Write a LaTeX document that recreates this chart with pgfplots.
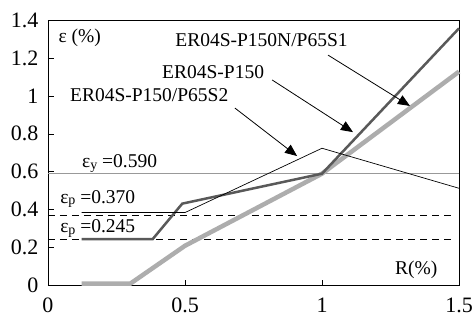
\documentclass[border=0pt]{standalone}
\usepackage{fontspec}
\setmainfont{Liberation Serif}
\usepackage{pgfplots}
\pgfplotsset{compat=1.18}
\usetikzlibrary{arrows.meta}
\newcommand{\sub}[1]{\raisebox{-1.5bp}{\fontsize{14bp}{16bp}\selectfont #1}}
\begin{document}
\begin{tikzpicture}[font=\fontsize{19.5bp}{23bp}\selectfont]
\begin{axis}[
  scale only axis,
  width=411bp, height=265.6bp,
  xmin=0, xmax=1.5, ymin=0, ymax=1.4,
  xtick={0,0.5,1,1.5},
  ytick={0,0.2,0.4,0.6,0.8,1,1.2,1.4},
  tick align=inside,
  xtick pos=bottom, ytick pos=left,
  major tick length=6bp,
  tick style={black, line width=0.6pt},
  axis line style={black, line width=0.8pt},
  /pgf/number format/assume math mode=true,
  ticklabel style={font=\fontsize{22bp}{26bp}\selectfont},
  xticklabel style={yshift=-9bp},
  yticklabel style={xshift=-6bp},
  clip=false,
]
% reference lines
\addplot[color=black!40, line width=1.2pt] coordinates {(0,0.59) (1.5,0.59)};
\addplot[black, line width=0.8pt, dash pattern=on 7bp off 5bp] coordinates {(0,0.37) (1.48,0.37)};
\addplot[black, line width=0.8pt, dash pattern=on 7bp off 5bp] coordinates {(0,0.245) (1.48,0.245)};
% series
\addplot[color=black!32, line width=4.5bp] coordinates {(0.123,0.01) (0.30,0.01) (0.5,0.21) (1,0.59) (1.5,1.128)};
\addplot[color=black!65, line width=2.5bp] coordinates {(0.123,0.245) (0.382,0.245) (0.49,0.432) (1,0.59) (1.5,1.356)};
\addplot[black, line width=0.7pt] coordinates {(0.123,0.385) (0.5,0.385) (1,0.724) (1.5,0.513)};
% labels
\node[anchor=west] at (axis cs:0.0255,1.305) {ε (\%)};
\node[anchor=east] at (axis cs:1.434,0.082) {R(\%)};
\node[anchor=base west, inner sep=0pt] at (axis cs:0.124,0.62) {ε\sub{y} =0.590};
\node[anchor=base west, inner sep=0pt] at (axis cs:0.044,0.435) {ε\sub{p} =0.370};
\node[anchor=base west, inner sep=0pt] at (axis cs:0.044,0.279) {ε\sub{p} =0.245};
\node[anchor=base west, inner sep=0pt] at (axis cs:0.464,1.259) {ER04S-P150N/P65S1};
\node[anchor=base west, inner sep=0pt] at (axis cs:0.416,1.093) {ER04S-P150};
\node[anchor=base west, inner sep=0pt] at (axis cs:0.080,0.969) {ER04S-P150/P65S2};
\draw[black, line width=0.8pt, -{Triangle[length=12bp,width=10bp]}] (axis cs:1.022,1.215) -- (axis cs:1.321,0.947);
\draw[black, line width=0.8pt, -{Triangle[length=12bp,width=10bp]}] (axis cs:0.818,1.084) -- (axis cs:1.113,0.809);
\draw[black, line width=0.8pt, -{Triangle[length=12bp,width=10bp]}] (axis cs:0.682,0.936) -- (axis cs:0.909,0.683);
\end{axis}
\pgfresetboundingbox
\path[use as bounding box] (-48bp,-36.4bp) rectangle (426bp,285.6bp);
\end{tikzpicture}
\end{document}
